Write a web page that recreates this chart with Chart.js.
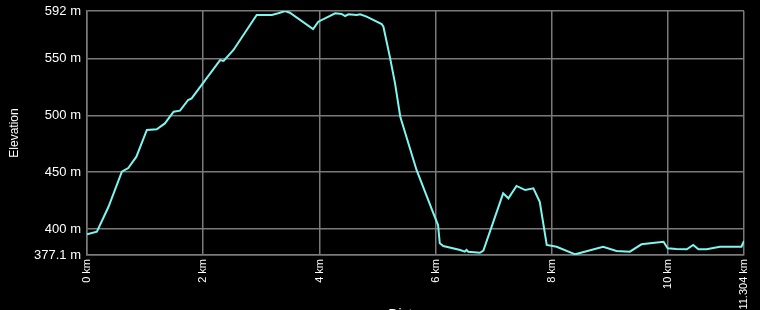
<!DOCTYPE html>
<html>
<head>
<meta charset="utf-8">
<script src="https://cdn.jsdelivr.net/npm/chart.js@4/dist/chart.umd.min.js"></script>
<style>
  html, body { margin: 0; padding: 0; background: #000; overflow: hidden; }
  #wrap { width: 760px; height: 324px; }
</style>
</head>
<body>
<div id="wrap"><canvas id="elevChart"></canvas></div>
<script>
// distance along the track (km) and elevation (m)
const distKm = [0, 0.17, 0.37, 0.60, 0.71, 0.85, 1.03, 1.20, 1.34, 1.49, 1.60, 1.74, 1.80,
  2.29, 2.35, 2.52, 2.92, 3.18, 3.29, 3.41, 3.49, 3.89, 3.98, 4.27, 4.38, 4.44, 4.50,
  4.64, 4.70, 4.81, 5.07, 5.10, 5.21, 5.30, 5.39, 5.67, 5.96, 6.04, 6.07, 6.13, 6.42,
  6.50, 6.53, 6.56, 6.76, 6.82, 7.16, 7.25, 7.39, 7.54, 7.68, 7.79, 7.91, 8.08, 8.40,
  8.88, 9.11, 9.34, 9.54, 9.69, 9.92, 9.99, 10.14, 10.32, 10.43, 10.52, 10.66, 10.89,
  11.26, 11.304];
const elevM = [395.3, 397.6, 419.6, 450.5, 453.7, 463.7, 487.2, 487.8, 493, 503.3, 504.2, 513.6, 515,
  548.8, 548, 557.7, 588.5, 588.5, 590, 592, 590.5, 576, 582.6, 590, 589.4, 587.6, 589.1,
  588.5, 589.1, 587, 580.5, 578.2, 551.8, 528.3, 498.9, 452, 413.8, 403.5, 387.4, 385, 381.5,
  380, 381.5, 380, 379, 380.9, 431.4, 427, 437.9, 434.3, 435.8, 424, 385.9, 384.4, 377.7,
  384.4, 380.6, 380, 386.5, 387.4, 388.8, 383, 382.4, 382.1, 385.9, 382.1, 382.1, 384.4,
  384.4, 389.4];

const xTicks = [0, 2, 4, 6, 8, 10, 11.304];
const yTicks = [377.1, 400, 450, 500, 550, 592];

const points = distKm.map((d, i) => ({ x: d, y: elevM[i] }));
const fontFamily = 'Liberation Sans, Arial, sans-serif';
const gridColor = '#7a7a7a';

new Chart(document.getElementById('elevChart'), {
  type: 'line',
  data: {
    datasets: [{
      data: points,
      borderColor: '#7ff5f0',
      borderWidth: 2,
      pointRadius: 0,
      tension: 0,
      fill: false
    }]
  },
  options: {
    responsive: true,
    maintainAspectRatio: false,
    animation: false,
    layout: { padding: { left: 0, right: 16, top: 11, bottom: 0 } },
    plugins: { legend: { display: false }, tooltip: { enabled: false } },
    scales: {
      x: {
        type: 'linear',
        min: xTicks[0],
        max: xTicks[xTicks.length - 1],
        afterBuildTicks: (scale) => { scale.ticks = xTicks.map(v => ({ value: v })); },
        afterFit: (scale) => {
          scale.height = 69;
          scale.paddingLeft = 0;
          scale.paddingRight = 0;
        },
        grid: { color: gridColor, lineWidth: 1.5, drawTicks: false },
        border: { color: gridColor, width: 1.5 },
        ticks: {
          color: '#fff',
          font: { family: fontFamily, size: 11 },
          padding: 4,
          minRotation: 90,
          maxRotation: 90,
          autoSkip: false,
          callback: (v) => v + ' km'
        },
        title: { display: true, text: 'Distance', color: '#fff', font: { family: fontFamily, size: 14 }, padding: { top: 0, bottom: 0 } }
      },
      y: {
        type: 'linear',
        min: yTicks[0],
        max: yTicks[yTicks.length - 1],
        afterBuildTicks: (scale) => { scale.ticks = yTicks.map(v => ({ value: v })); },
        afterFit: (scale) => {
          scale.width = 87;
          scale.paddingTop = 0;
          scale.paddingBottom = 0;
        },
        grid: { color: gridColor, lineWidth: 1.5, drawTicks: false },
        border: { color: gridColor, width: 1.5 },
        ticks: {
          color: '#fff',
          font: { family: fontFamily, size: 13 },
          padding: 6,
          autoSkip: false,
          callback: (v) => v + ' m'
        },
        title: { display: true, text: 'Elevation', color: '#fff', font: { family: fontFamily, size: 12 }, padding: { top: 7, bottom: 0 } }
      }
    }
  }
});
</script>
</body>
</html>
